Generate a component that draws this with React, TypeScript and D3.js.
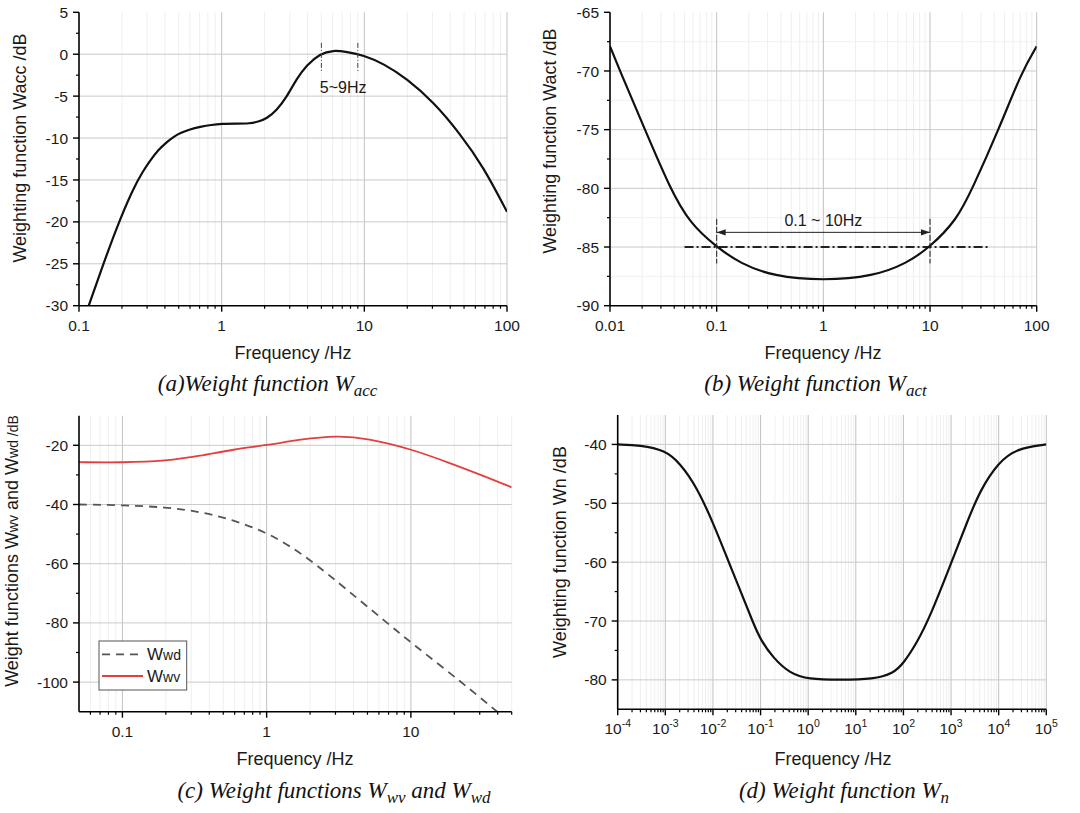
import React from "react";
import * as d3 from "d3";

// ---- data -----------------------------------------------------------------
// (a) acceleration weighting Wacc
const accFreq = [0.117, 0.14, 0.184, 0.24, 0.28, 0.315, 0.36, 0.411, 0.46, 0.511, 0.6, 0.705, 0.85, 1.0, 1.25, 1.58, 1.8, 2.07, 2.43, 2.86, 3.36, 3.94, 4.89, 6.06, 7.52, 9.84, 13.6, 19.8, 30.5, 46.8, 68.2, 100];
const accDb = [-30, -26.2, -20.6, -16.0, -14.0, -12.7, -11.4, -10.5, -9.85, -9.4, -8.95, -8.67, -8.42, -8.3, -8.28, -8.27, -8.05, -7.68, -6.68, -5.09, -2.9, -1.31, 0.08, 0.48, 0.28, -0.12, -1.11, -2.9, -5.69, -9.47, -13.4, -18.8];

// (b) actuator weighting Wact
const actFreq = [0.01, 0.0124, 0.0213, 0.0365, 0.0562, 0.1, 0.166, 0.34, 1, 2.94, 6.04, 10, 17.8, 25, 44, 73, 100];
const actDb = [-67.9, -70, -75, -80, -83.0, -85, -86.4, -87.5, -87.87, -87.5, -86.4, -85, -82.7, -80, -75, -70, -67.9];

// (c) Wwv and Wwd
const wvFreq = [0.05, 0.1, 0.202, 0.345, 0.589, 1, 1.71, 3.08, 4.99, 10, 18.9, 32.2, 50];
const wvDb = [-25.7, -25.85, -25.3, -23.6, -21.35, -20, -18, -16.7, -17.6, -21.2, -26.1, -30.4, -34.2];
const wdFreq = [0.05, 0.1, 0.2, 0.345, 0.589, 1, 1.45, 2.17, 3.5, 6.84, 10, 22.8, 38.8, 42];
const wdDb = [-40, -40.2, -40.9, -42.4, -45.2, -49.5, -54, -60, -68.3, -80, -86.6, -100.3, -109.6, -111];

// (d) noise weighting Wn
const nFreq = [1e-4, 2.94e-4, 1e-3, 2.03e-3, 4.55e-3, 1.02e-2, 0.0194, 0.037, 0.0705, 0.1, 0.185, 0.415, 1, 4.66, 23.3, 61.4, 100, 189, 361, 1000, 2120, 4050, 1e4, 2.38e4, 1e5];
const nDb = [-40, -40.1, -41, -43.2, -47.2, -53.4, -59.1, -64.7, -70.4, -73.2, -76.3, -78.9, -79.9, -80, -79.9, -78.9, -77.2, -73.8, -69.3, -60.2, -53.4, -47.8, -43, -40.7, -40];

// tick values and labels
const aXTicks = [0.1, 1, 10, 100];
const aXLabels = ["0.1", "1", "10", "100"];
const aYTicks = [5, 0, -5, -10, -15, -20, -25, -30];
const bXTicks = [0.01, 0.1, 1, 10, 100];
const bXLabels = ["0.01", "0.1", "1", "10", "100"];
const bYTicks = [-65, -70, -75, -80, -85, -90];
const cXTicks = [0.1, 1, 10];
const cXLabels = ["0.1", "1", "10"];
const cYTicks = [-20, -40, -60, -80, -100];
const dXExponents = [-4, -3, -2, -1, 0, 1, 2, 3, 4, 5];
const dYTicks = [-40, -50, -60, -70, -80];

const FONT = "'Liberation Sans', Arial, sans-serif";
const SERIF = "'Liberation Serif', 'Times New Roman', serif";
const TXT = "#1a1a1a";

type Box = { left: number; right: number; top: number; bottom: number };
type Pt = [number, number];
type XS = d3.ScaleLogarithmic<number, number>;
type YS = d3.ScaleLinear<number, number>;

function minorLogValues(domain: [number, number]) {
  const out: number[] = [];
  const lo = Math.floor(Math.log10(domain[0]));
  const hi = Math.ceil(Math.log10(domain[1]));
  for (let e = lo; e <= hi; e++) {
    for (let k = 2; k <= 9; k++) {
      const v = k * Math.pow(10, e);
      if (v > domain[0] * 1.0001 && v <= domain[1] * 1.0001) out.push(v);
    }
  }
  return out;
}

function Panel(props: {
  id: string;
  box: Box;
  xDomain: [number, number];
  yDomain: [number, number];
  xTicks: number[];
  xLabel: (v: number, i: number) => React.ReactNode;
  yTicks: number[];
  yMinor: number[];
  yMinorGrid?: boolean;
  children: (x: XS, y: YS) => React.ReactNode;
}) {
  const { box } = props;
  const x = d3.scaleLog().domain(props.xDomain).range([box.left, box.right]);
  const y = d3.scaleLinear().domain(props.yDomain).range([box.bottom, box.top]);
  const minors = minorLogValues(props.xDomain);
  const majorsX = props.xTicks.filter((v) => v > props.xDomain[0] * 1.0001);
  return (
    <g>
      <defs>
        <clipPath id={props.id}>
          <rect x={box.left} y={box.top} width={box.right - box.left} height={box.bottom - box.top} />
        </clipPath>
      </defs>
      {/* grid */}
      {minors.map((v) => (
        <line key={"mx" + v} x1={x(v)} x2={x(v)} y1={box.top} y2={box.bottom} stroke="#efefef" strokeWidth={1} />
      ))}
      {props.yMinorGrid &&
        props.yMinor.map((v) => (
          <line key={"my" + v} x1={box.left} x2={box.right} y1={y(v)} y2={y(v)} stroke="#f0f0f0" strokeWidth={1} />
        ))}
      {majorsX.map((v) => (
        <line key={"gx" + v} x1={x(v)} x2={x(v)} y1={box.top} y2={box.bottom} stroke="#c2c2c2" strokeWidth={1} />
      ))}
      {props.yTicks
        .filter((v) => v !== props.yDomain[0] && v !== props.yDomain[1])
        .map((v) => (
          <line key={"gy" + v} x1={box.left} x2={box.right} y1={y(v)} y2={y(v)} stroke="#cacaca" strokeWidth={1} />
        ))}
      <g clipPath={`url(#${props.id})`}>{props.children(x, y)}</g>
      {/* axes */}
      <line x1={box.left} x2={box.right} y1={box.bottom} y2={box.bottom} stroke="#000" strokeWidth={1.6} />
      <line x1={box.left} x2={box.left} y1={box.top} y2={box.bottom} stroke="#000" strokeWidth={1.6} />
      {minors.map((v) => (
        <line key={"tx" + v} x1={x(v)} x2={x(v)} y1={box.bottom} y2={box.bottom + 3} stroke="#000" strokeWidth={1.2} />
      ))}
      {props.xTicks.map((v, i) => (
        <g key={"lx" + v}>
          <line x1={x(v)} x2={x(v)} y1={box.bottom} y2={box.bottom + 6} stroke="#000" strokeWidth={1.4} />
          <text x={x(v)} y={box.bottom + 25} textAnchor="middle" fontSize={15.5} fontFamily={FONT} fill={TXT}>
            {props.xLabel(v, i)}
          </text>
        </g>
      ))}
      {props.yMinor.map((v) => (
        <line key={"ty" + v} x1={box.left - 3} x2={box.left} y1={y(v)} y2={y(v)} stroke="#000" strokeWidth={1.2} />
      ))}
      {props.yTicks.map((v) => (
        <g key={"ly" + v}>
          <line x1={box.left - 6} x2={box.left} y1={y(v)} y2={y(v)} stroke="#000" strokeWidth={1.4} />
          <text x={box.left - 11} y={y(v)} dy="0.36em" textAnchor="end" fontSize={15.5} fontFamily={FONT} fill={TXT}>
            {String(v)}
          </text>
        </g>
      ))}
    </g>
  );
}

function YTitle({ cx, cy, children }: { cx: number; cy: number; children: React.ReactNode }) {
  return (
    <text transform={`translate(${cx},${cy}) rotate(-90)`} dy="0.36em" textAnchor="middle" fontSize={18} fontFamily={FONT} fill={TXT}>
      {children}
    </text>
  );
}

function XTitle({ cx, y }: { cx: number; y: number }) {
  return (
    <text x={cx} y={y} textAnchor="middle" fontSize={18} fontFamily={FONT} fill={TXT}>
      Frequency /Hz
    </text>
  );
}

function Caption({ cx, y, children }: { cx: number; y: number; children: React.ReactNode }) {
  return (
    <text x={cx} y={y} textAnchor="middle" fontSize={23} fontStyle="italic" fontFamily={SERIF} fill="#111">
      {children}
    </text>
  );
}

const zip = (a: number[], b: number[]): Pt[] => a.map((v, i) => [v, b[i]]);

const mkLine = (x: XS, y: YS) =>
  d3
    .line<Pt>()
    .x((d) => x(d[0]))
    .y((d) => y(d[1]))
    .curve(d3.curveBasis);

const range = (a: number, b: number, s: number) => d3.range(a, b + s / 2, s);

export default function App() {
  const boxA: Box = { left: 79, right: 507, top: 12.3, bottom: 305.7 };
  const boxB: Box = { left: 610, right: 1036.7, top: 12.3, bottom: 305.7 };
  const boxC: Box = { left: 79, right: 511.7, top: 415.7, bottom: 711.7 };
  const boxD: Box = { left: 617.7, right: 1046.3, top: 415, bottom: 709.3 };

  const xA = d3.scaleLog().domain([0.1, 100]).range([boxA.left, boxA.right]);
  const yA = d3.scaleLinear().domain([-30, 5]).range([boxA.bottom, boxA.top]);
  const xB = d3.scaleLog().domain([0.01, 100]).range([boxB.left, boxB.right]);
  const yB = d3.scaleLinear().domain([-90, -65]).range([boxB.bottom, boxB.top]);

  return (
    <svg width={1080} height={813} style={{ position: "absolute", left: 0, top: 0, background: "#fff" }}>
      <rect x={0} y={0} width={1080} height={813} fill="#fff" />
      <defs>
        <marker id="arrow" viewBox="0 0 10 10" refX={10} refY={5} markerWidth={9} markerHeight={9} orient="auto-start-reverse" markerUnits="userSpaceOnUse">
          <path d="M0,1.5 L10,5 L0,8.5 Z" fill="#222" />
        </marker>
      </defs>

      {/* (a) */}
      <Panel
        id="clipA"
        box={boxA}
        xDomain={[0.1, 100]}
        yDomain={[-30, 5]}
        xTicks={aXTicks}
        xLabel={(v, i) => aXLabels[i]}
        yTicks={aYTicks}
        yMinor={range(-27.5, 2.5, 5)}
      >
        {(x, y) => <path d={mkLine(x, y)(zip(accFreq, accDb)) || ""} fill="none" stroke="#111" strokeWidth={2.2} />}
      </Panel>
      <g>
        {[5, 9].map((f) => (
          <line key={f} x1={xA(f)} x2={xA(f)} y1={yA(1.35)} y2={yA(-2.1)} stroke="#444" strokeWidth={1} strokeDasharray="5,2,1,2" />
        ))}
        <text x={xA(7.1)} y={yA(-3.9)} dy="0.36em" textAnchor="middle" fontSize={16} fontFamily={FONT} fill={TXT}>
          5~9Hz
        </text>
      </g>
      <YTitle cx={20} cy={148}>Weighting function Wacc /dB</YTitle>
      <XTitle cx={293} y={359} />
      <Caption cx={267.5} y={391}>
        (a)Weight function W<tspan fontSize={17} dy={5}>acc</tspan>
      </Caption>

      {/* (b) */}
      <Panel
        id="clipB"
        box={boxB}
        xDomain={[0.01, 100]}
        yDomain={[-90, -65]}
        xTicks={bXTicks}
        xLabel={(v, i) => bXLabels[i]}
        yTicks={bYTicks}
        yMinor={range(-87.5, -67.5, 5)}
        yMinorGrid
      >
        {(x, y) => (
          <>
            <line x1={x(0.05)} x2={x(35)} y1={y(-85)} y2={y(-85)} stroke="#222" strokeWidth={2.2} strokeDasharray="9,3,2,3" />
            <path d={mkLine(x, y)(zip(actFreq, actDb)) || ""} fill="none" stroke="#111" strokeWidth={2.2} />
          </>
        )}
      </Panel>
      <g>
        {[0.1, 10].map((f) => (
          <line key={f} x1={xB(f)} x2={xB(f)} y1={yB(-82.6)} y2={yB(-86.4)} stroke="#222" strokeWidth={1} strokeDasharray="6,2" />
        ))}
        <line x1={xB(0.1)} x2={xB(10)} y1={yB(-83.75)} y2={yB(-83.75)} stroke="#222" strokeWidth={1} markerStart="url(#arrow)" markerEnd="url(#arrow)" />
        <text x={xB(1)} y={yB(-83.2)} textAnchor="middle" fontSize={16} fontFamily={FONT} fill={TXT}>
          0.1 ~ 10Hz
        </text>
      </g>
      <YTitle cx={550} cy={141}>Weighting function Wact /dB</YTitle>
      <XTitle cx={823} y={359} />
      <Caption cx={815.5} y={391}>
        (b) Weight function W<tspan fontSize={17} dy={5}>act</tspan>
      </Caption>

      {/* (c) */}
      <Panel
        id="clipC"
        box={boxC}
        xDomain={[0.05, 50]}
        yDomain={[-110, -10]}
        xTicks={cXTicks}
        xLabel={(v, i) => cXLabels[i]}
        yTicks={cYTicks}
        yMinor={[-30, -50, -70, -90]}
      >
        {(x, y) => (
          <>
            <path d={mkLine(x, y)(zip(wdFreq, wdDb)) || ""} fill="none" stroke="#555" strokeWidth={1.8} strokeDasharray="8,6" />
            <path d={mkLine(x, y)(zip(wvFreq, wvDb)) || ""} fill="none" stroke="#e53e3e" strokeWidth={1.8} />
          </>
        )}
      </Panel>
      <g>
        <rect x={99} y={641} width={87.7} height={49} fill="#fff" stroke="#555" strokeWidth={1} />
        <line x1={102} x2={143} y1={654.3} y2={654.3} stroke="#555" strokeWidth={1.8} strokeDasharray="8,6" />
        <line x1={102} x2={143} y1={676} y2={676} stroke="#e53e3e" strokeWidth={1.8} />
        <text x={147} y={660} fontSize={17} fontFamily={FONT} fill={TXT}>
          W<tspan fontSize={14}>wd</tspan>
        </text>
        <text x={147} y={682} fontSize={17} fontFamily={FONT} fill={TXT}>
          W<tspan fontSize={14}>wv</tspan>
        </text>
      </g>
      <YTitle cx={12} cy={551}>
        Weight functions W<tspan fontSize={14}>wv</tspan> and W<tspan fontSize={14}>wd /dB</tspan>
      </YTitle>
      <XTitle cx={295} y={765} />
      <Caption cx={334} y={798}>
        (c) Weight functions W<tspan fontSize={17} dy={5}>wv</tspan>
        <tspan dy={-5}> and W</tspan>
        <tspan fontSize={17} dy={5}>wd</tspan>
      </Caption>

      {/* (d) */}
      <Panel
        id="clipD"
        box={boxD}
        xDomain={[1e-4, 1e5]}
        yDomain={[-85, -35]}
        xTicks={dXExponents.map((e) => Math.pow(10, e))}
        xLabel={(v, i) => (
          <>
            10<tspan fontSize={10.5} dy={-7}>{String(dXExponents[i])}</tspan>
          </>
        )}
        yTicks={dYTicks}
        yMinor={range(-75, -45, 10)}
      >
        {(x, y) => <path d={mkLine(x, y)(zip(nFreq, nDb)) || ""} fill="none" stroke="#111" strokeWidth={2.2} />}
      </Panel>
      <YTitle cx={560} cy={552}>Weighting function Wn /dB</YTitle>
      <XTitle cx={833} y={765} />
      <Caption cx={844} y={798}>
        (d) Weight function W<tspan fontSize={17} dy={5}>n</tspan>
      </Caption>
    </svg>
  );
}
